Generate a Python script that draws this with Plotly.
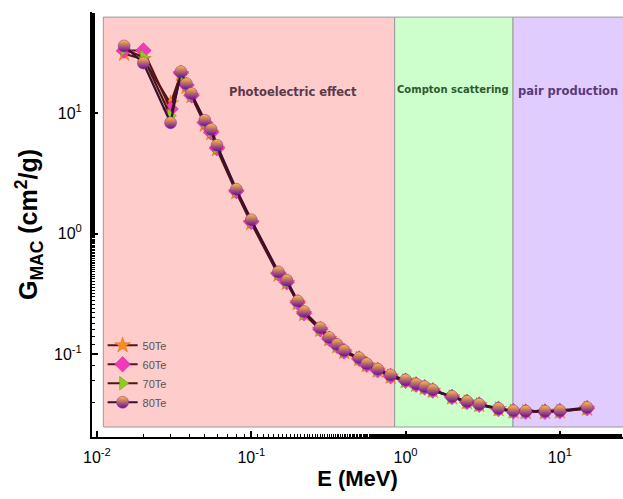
import plotly.graph_objects as go

# ---- data ----
energy = [0.015, 0.02, 0.03, 0.035, 0.038, 0.041, 0.05, 0.055, 0.06, 0.08, 0.1, 0.15, 0.17, 0.2, 0.22,
          0.28, 0.32, 0.36, 0.4, 0.5, 0.56, 0.66, 0.8, 1.0, 1.17, 1.33, 1.5, 2.0, 2.5, 3.0, 4.0, 5.0,
          6.0, 8.0, 10.0, 15.0]
te50 = [31, 28, 12, 21, 16.5, 13.8, 8.0, 6.8, 5.0, 2.2, 1.22, 0.455, 0.39, 0.265, 0.215, 0.159, 0.133,
        0.116, 0.104, 0.091, 0.081, 0.073, 0.065, 0.0595, 0.0555, 0.0525, 0.0495, 0.0437, 0.0398, 0.0378,
        0.0349, 0.0334, 0.0331, 0.0331, 0.0334, 0.0353]
te60 = [33, 33, 10.8, 21.5, 17, 14, 8.3, 6.9, 5.1, 2.25, 1.25, 0.465, 0.395, 0.268, 0.218, 0.161, 0.134,
        0.117, 0.105, 0.0915, 0.0815, 0.0735, 0.0655, 0.06, 0.0558, 0.0528, 0.0498, 0.044, 0.04, 0.038,
        0.035, 0.0335, 0.0332, 0.0332, 0.0335, 0.0355]
te70 = [34, 29, 9.5, 20.5, 17.2, 14.2, 8.5, 7.1, 5.2, 2.28, 1.28, 0.47, 0.40, 0.27, 0.22, 0.162, 0.135,
        0.118, 0.106, 0.0925, 0.082, 0.074, 0.066, 0.0605, 0.0562, 0.0532, 0.0502, 0.0443, 0.0403, 0.0382,
        0.0352, 0.0337, 0.0334, 0.0334, 0.0337, 0.0357]
te80 = [36, 26, 8.3, 22, 17.5, 14.5, 8.7, 7.3, 5.4, 2.33, 1.3, 0.48, 0.41, 0.275, 0.225, 0.165, 0.137,
        0.12, 0.107, 0.093, 0.083, 0.075, 0.067, 0.061, 0.0565, 0.0535, 0.0505, 0.0445, 0.0405, 0.0384,
        0.0354, 0.0338, 0.0336, 0.0336, 0.0339, 0.036]
series_names = ["50Te", "60Te", "70Te", "80Te"]
x_ticks = [0.01, 0.1, 1, 10]
x_ticktext = ["10<sup>-2</sup>", "10<sup>-1</sup>", "10<sup>0</sup>", "10<sup>1</sup>"]
y_ticks = [0.1, 1, 10]
y_ticktext = ["10<sup>-1</sup>", "10<sup>0</sup>", "10<sup>1</sup>"]
regions = [("Photoelectric effect", 0.011, 0.85), ("Compton scattering", 0.85, 4.97),
           ("pair production", 4.97, 100)]

fig = go.Figure()

# region backgrounds
fills = ["#FFCCCC", "#CCFFCC", "#E0CCFF"]
for (name, x0, x1), col in zip(regions, fills):
    fig.add_shape(type="rect", xref="x", yref="paper", x0=x0, x1=x1, y0=0.0235, y1=0.988,
                  fillcolor=col, line=dict(color="#9A9A9A", width=1), layer="below")

styles = [
    dict(symbol="star", color="#FF8A1E", line=dict(color="#E0701A", width=0.5)),
    dict(symbol="diamond", color="#F23AB8", line=dict(color="#C02090", width=0.5)),
    dict(symbol="triangle-right", color="#8FCC1E", line=dict(color="#6FA010", width=0.5)),
    dict(symbol="circle", color="#FFC040", line=dict(color="#8A2AA8", width=0.5),
         gradient=dict(type="vertical", color="#680A9E")),
]
line_cols = ["#5A1414", "#5A1020", "#4A1A10", "#3A0F30"]
for name, ys, st, lc in zip(series_names, [te50, te60, te70, te80], styles, line_cols):
    fig.add_trace(go.Scatter(x=energy, y=ys, name=name, mode="lines+markers",
                             line=dict(color=lc, width=2.2), marker=dict(size=12, **st)))

# region labels
fig.add_annotation(x=-0.73, y=0.833, xref="x", yref="paper", text="<b>Photoelectric effect</b>",
                   showarrow=False, font=dict(family="DejaVu Sans", size=11.5, color="#5A3A48"))
fig.add_annotation(x=0.305, y=0.836, xref="x", yref="paper", text="<b>Compton scattering</b>",
                   showarrow=False, font=dict(family="DejaVu Sans", size=10, color="#2E5A2E"))
fig.add_annotation(x=0.716, y=0.836, xref="x", yref="paper", text="<b>pair production</b>",
                   showarrow=False, xanchor="left", font=dict(family="DejaVu Sans", size=11.5, color="#5A3A78"))

axis_common = dict(type="log", showline=True, linewidth=2, linecolor="black", ticks="inside",
                   ticklen=6, tickwidth=1.5, tickcolor="black", showgrid=False, zeroline=False,
                   tickfont=dict(family="Liberation Sans", size=16, color="black"),
                   minor=dict(ticks="inside", ticklen=3, tickwidth=1, tickcolor="black", showgrid=False))

fig.update_xaxes(range=[-2.032, 1.409], tickvals=x_ticks, ticktext=x_ticktext, ticklabelstandoff=5,
                 title=dict(text="<b>E (MeV)</b>", standoff=4,
                            font=dict(family="Liberation Sans", size=22, color="black")),
                 **axis_common)
fig.update_yaxes(range=[-1.688, 1.838], tickvals=y_ticks, ticktext=y_ticktext, ticklabelstandoff=5,
                 title=dict(text="<b>G<sub>MAC</sub> (cm<sup>2</sup>/g)</b>",
                            font=dict(family="Liberation Sans", size=25, color="black"), standoff=9),
                 **axis_common)

fig.update_layout(
    width=623, height=499, margin=dict(l=92, r=0, t=12, b=62),
    paper_bgcolor="white", plot_bgcolor="white", showlegend=True,
    legend=dict(x=0.02, y=0.25, xanchor="left", yanchor="top", bgcolor="rgba(0,0,0,0)",
                font=dict(family="Liberation Sans", size=11, color="#555555"), itemwidth=30,
                tracegroupgap=0),
)

# remove the default page margin so the 623x499 figure fills the window
fig.write_html("out.html", config={"displayModeBar": False},
               post_script="document.body.style.margin='0';document.body.style.overflow='hidden';")
